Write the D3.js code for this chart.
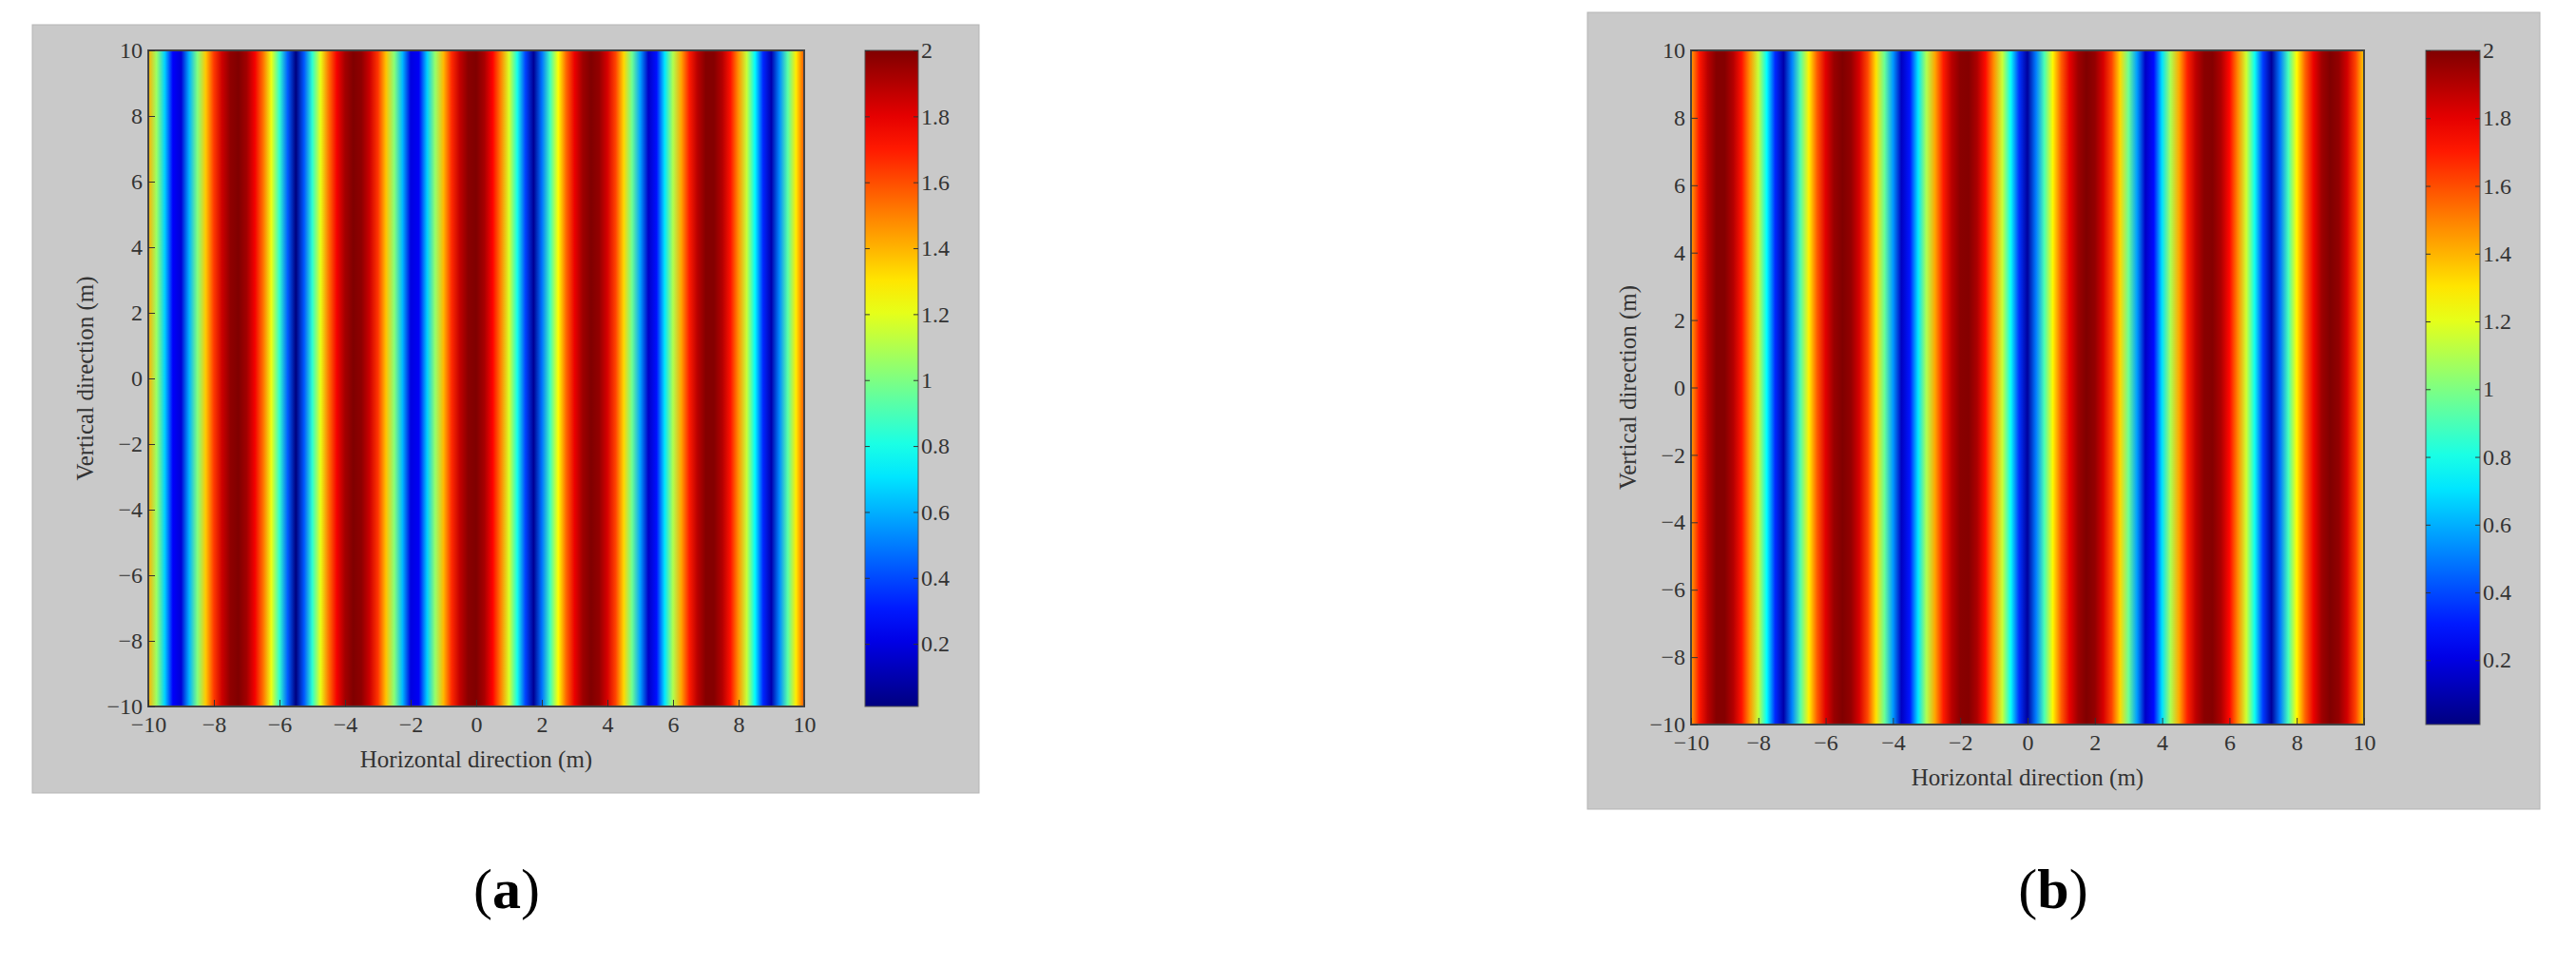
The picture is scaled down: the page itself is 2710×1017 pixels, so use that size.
<!DOCTYPE html>
<html><head><meta charset="utf-8">
<script src="https://cdn.jsdelivr.net/npm/d3@7"></script>
<style>body{margin:0;background:#fff}svg{display:block}</style>
</head><body>
<svg id="c" width="2710" height="1017"></svg>
<script>
// x positions of samples (m)
const xSamples = d3.range(81).map(i => -10 + i * 0.25);
// field value across horizontal direction (constant vertically), panel (a)
const valuesA = [1.41,1.06,0.67,0.25,0.18,0.61,1.01,1.36,1.64,1.85,1.97,2.00,1.93,1.77,1.53,1.22,0.85,0.44,0.01,0.43,0.84,1.21,1.53,1.77,1.93,2.00,1.97,1.85,1.65,1.37,1.02,0.62,0.20,0.24,0.66,1.05,1.39,1.67,1.87,1.98,2.00,1.92,1.75,1.50,1.18,0.80,0.39,0.05,0.48,0.88,1.25,1.56,1.79,1.94,2.00,1.96,1.83,1.62,1.33,0.97,0.57,0.15,0.29,0.71,1.10,1.43,1.70,1.89,1.99,1.99,1.90,1.72,1.46,1.14,0.75,0.33,0.10,0.53,0.93,1.29,1.59];
// panel (b)
const valuesB = [1.44,1.71,1.89,1.99,1.99,1.90,1.72,1.46,1.14,0.76,0.34,0.09,0.51,0.92,1.28,1.58,1.81,1.95,2.00,1.96,1.83,1.61,1.31,0.96,0.56,0.14,0.30,0.71,1.10,1.43,1.70,1.89,1.98,1.99,1.91,1.73,1.47,1.15,0.77,0.36,0.07,0.50,0.90,1.27,1.57,1.80,1.94,2.00,1.96,1.83,1.62,1.33,0.97,0.57,0.15,0.28,0.70,1.09,1.42,1.69,1.88,1.98,1.99,1.91,1.74,1.48,1.16,0.78,0.37,0.06,0.49,0.89,1.26,1.56,1.79,1.94,2.00,1.96,1.84,1.62,1.34];
const axisTicks = [-10,-8,-6,-4,-2,0,2,4,6,8,10];
const cbarTicks = [0.2,0.4,0.6,0.8,1,1.2,1.4,1.6,1.8,2];
const cbarDomain = [0.01, 2];
const xTitle = "Horizontal direction (m)";
const yTitle = "Vertical direction (m)";
const panelLabels = ["a", "b"];

function jet(t){ // t in [0,1]
  const r = Math.max(0, Math.min(1, 1.5 - Math.abs(4*t - 3)));
  const g = Math.max(0, Math.min(1, 1.5 - Math.abs(4*t - 2)));
  const b = Math.max(0, Math.min(1, 1.5 - Math.abs(4*t - 1)));
  return d3.rgb(r*255, g*255, b*255).formatHex();
}
const svg = d3.select("#c");
const defs = svg.append("defs");
const font = "'Liberation Serif', 'DejaVu Serif', serif";

const panels = [
  {id:"a", vals:valuesA, bg:[34,26,996,808], plot:[156,53,846,743], cb:[910,966], label:[533,955]},
  {id:"b", vals:valuesB, bg:[1670,13,1002,838], plot:[1779,53,2487,762], cb:[2552,2609], label:[2160,955]}
];
const cScale = d3.scaleLinear().domain(cbarDomain).range([0,1]).clamp(true);

panels.forEach((p, pi) => {
  const g = svg.append("g");
  g.append("rect").attr("x",p.bg[0]).attr("y",p.bg[1]).attr("width",p.bg[2]).attr("height",p.bg[3])
    .attr("fill","#c9c9c9").attr("stroke","#b5b5b5");
  const x = d3.scaleLinear().domain([-10,10]).range([p.plot[0], p.plot[2]]);
  const y = d3.scaleLinear().domain([-10,10]).range([p.plot[3], p.plot[1]]);
  const gid = "grad"+p.id;
  const lg = defs.append("linearGradient").attr("id",gid)
    .attr("gradientUnits","userSpaceOnUse").attr("x1",x(-10)).attr("x2",x(10)).attr("y1",0).attr("y2",0);
  xSamples.forEach((xv,i) => lg.append("stop")
    .attr("offset",(x(xv)-x(-10))/(x(10)-x(-10))).attr("stop-color", jet(cScale(p.vals[i]))));
  g.append("rect").attr("x",x(-10)).attr("y",y(10)).attr("width",x(10)-x(-10)).attr("height",y(-10)-y(10))
    .attr("fill","url(#"+gid+")").attr("stroke","#444").attr("stroke-width",2);

  const xa = g.append("g").attr("transform",`translate(0,${y(-10)})`)
    .call(d3.axisBottom(x).tickValues(axisTicks).tickSizeInner(-7).tickSizeOuter(0).tickPadding(10));
  const ya = g.append("g").attr("transform",`translate(${x(-10)},0)`)
    .call(d3.axisLeft(y).tickValues(axisTicks).tickSizeInner(-7).tickSizeOuter(0).tickPadding(6));
  [xa,ya].forEach(a=>{a.select(".domain").remove();
    a.selectAll("line").attr("stroke","#333");
    a.selectAll("text").attr("font-family",font).attr("font-size",24).attr("fill","#333");});
  g.append("text").attr("x",(x(-10)+x(10))/2).attr("y",y(-10)+64).attr("text-anchor","middle")
    .attr("font-family",font).attr("font-size",25).attr("fill","#333").text(xTitle);
  g.append("text").attr("transform",`translate(${x(-10)-58},${(y(10)+y(-10))/2}) rotate(-90)`)
    .attr("text-anchor","middle").attr("font-family",font).attr("font-size",25).attr("fill","#333").text(yTitle);

  // colorbar
  const cy = d3.scaleLinear().domain(cbarDomain).range([y(-10), y(10)]);
  const cgid = "cgrad"+p.id;
  const cg = defs.append("linearGradient").attr("id",cgid).attr("x1",0).attr("x2",0).attr("y1",1).attr("y2",0);
  d3.range(0,1.0001,0.05).forEach(t => cg.append("stop").attr("offset",t).attr("stop-color",jet(t)));
  g.append("rect").attr("x",p.cb[0]).attr("y",y(10)).attr("width",p.cb[1]-p.cb[0]).attr("height",y(-10)-y(10))
    .attr("fill","url(#"+cgid+")").attr("stroke","#555");
  const ca = g.append("g").attr("transform",`translate(${p.cb[1]},0)`)
    .call(d3.axisRight(cy).tickValues(cbarTicks).tickFormat(d3.format("")).tickSizeInner(-5).tickSizeOuter(0).tickPadding(3));
  ca.select(".domain").remove();
  ca.selectAll("line").attr("stroke","#333");
  ca.selectAll("text").attr("font-family",font).attr("font-size",24).attr("fill","#333");
  const cl = g.append("g").attr("transform",`translate(${p.cb[0]},0)`)
    .call(d3.axisLeft(cy).tickValues(cbarTicks).tickFormat("").tickSizeInner(-5).tickSizeOuter(0));
  cl.select(".domain").remove(); cl.selectAll("line").attr("stroke","#333");

  const lt = svg.append("text").attr("x",p.label[0]).attr("y",p.label[1]).attr("text-anchor","middle")
    .attr("font-family",font).attr("font-size",60).attr("fill","#000");
  lt.append("tspan").text("(");
  lt.append("tspan").attr("font-weight","bold").text(panelLabels[pi]);
  lt.append("tspan").text(")");
});
</script>
</body></html>
